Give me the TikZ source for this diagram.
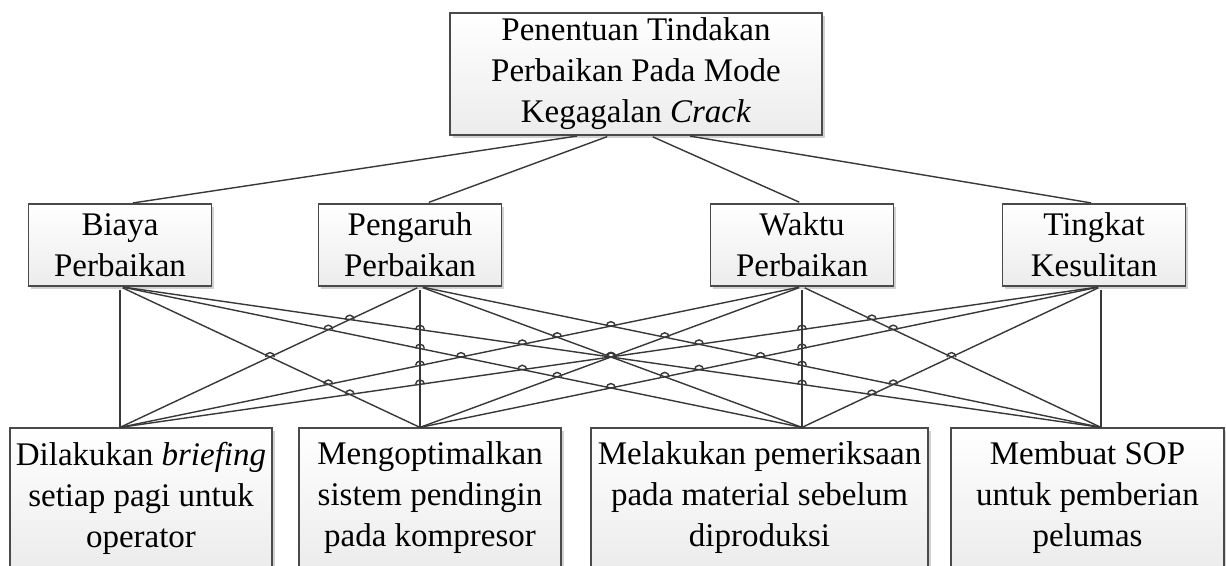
\documentclass[tikz,border=0pt]{standalone}
\usepackage{fontspec}
\setmainfont{Liberation Serif}
\usepackage{tikz}
\usetikzlibrary{shadows, intersections, calc}

\definecolor{edgegray}{HTML}{383838}
\definecolor{boxline}{HTML}{4A4A4A}

\begin{document}
\begin{tikzpicture}[
    x=0.5pt, y=-0.5pt,
    box/.style={rectangle, draw=boxline, line width=0.6pt, top color=white, bottom color=gray!15, inner sep=0pt, align=center, font=\fontsize{16.5}{20.5}\selectfont, drop shadow={shadow xshift=1.3pt, shadow yshift=-1.3pt, fill=gray!70, opacity=0.5}},
    goal/.style={box, minimum width=186pt, minimum height=61pt},
    crit/.style={box, minimum width=91.5pt, minimum height=41pt},
    alt/.style={box, minimum height=70pt},
    link/.style={draw=edgegray, line width=0.7pt, shorten <=1.5pt},
    hop/.style={draw=edgegray, line width=0.7pt}
  ]
  \clip (0,0) rectangle (1226,566);
  \fill [white] (0,0) rectangle (1226,566);

  \node (top) [goal] at (636,74) {Penentuan Tindakan\\Perbaikan Pada Mode\\Kegagalan \textit{Crack}};

  \node (b1) [crit] at (120,245) {Biaya\\Perbaikan};
  \node (b2) [crit] at (410,245) {Pengaruh\\Perbaikan};
  \node (b3) [crit] at (802,245) {Waktu\\Perbaikan};
  \node (b4) [crit] at (1094,245) {Tingkat\\Kesulitan};

  \node (c1) [alt, minimum width=131pt] at (141,498) {Dilakukan \textit{briefing}\\setiap pagi untuk\\operator};
  \node (c2) [alt, minimum width=131pt] at (430,498) {Mengoptimalkan\\sistem pendingin\\pada kompresor};
  \node (c3) [alt, minimum width=168.5pt] at (759.5,498) {Melakukan pemeriksaan\\pada material sebelum\\diproduksi};
  \node (c4) [alt, minimum width=136.5pt] at (1087.5,498) {Membuat SOP\\untuk pemberian\\pelumas};

  % goal to criteria
  \draw [link, shorten >=1.5pt] ([xshift=-28pt]top.south) -- ([xshift=5pt]b1.north);
  \draw [link, shorten >=1.5pt] ([xshift=-13pt]top.south) -- ([xshift=8pt]b2.north);
  \draw [link, shorten >=1.5pt] ([xshift=7pt]top.south) -- (b3.north);
  \draw [link, shorten >=1.5pt] ([xshift=25.5pt]top.south) -- (b4.north);

  % criteria to alternatives
  \foreach \n/\dx in {1/0, 2/5, 3/0, 4/3.5}
    \coordinate (d\n) at ([xshift=\dx pt]b\n.south);
  \foreach \i in {1,...,4}
    \foreach \j in {1,...,4}
      \draw [link, name path global=l\i.\j.] (d\i) -- (d\j |- c\j.north);

  % line hops
  \foreach \i in {1,...,4}
    \foreach \j in {1,...,4}
      \foreach \k in {1,...,4}
        \foreach \m in {1,...,4} {
          \ifnum\i<\k \ifnum\j>\m
            \path [name intersections={of=l\i.\j. and l\k.\m., by=h}];
            \draw [hop] ([xshift=-2.2pt]h) arc [start angle=180, end angle=0, radius=2.2pt];
          \fi\fi
        }
\end{tikzpicture}
\end{document}
